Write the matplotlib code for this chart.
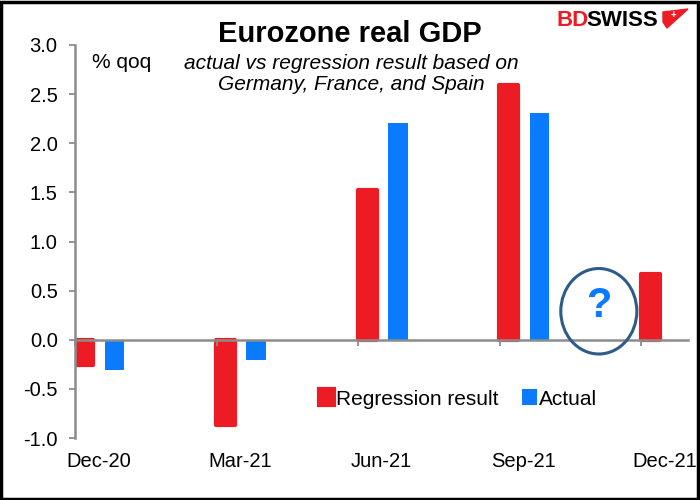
import matplotlib
matplotlib.use("Agg")
import matplotlib.pyplot as plt
from matplotlib.patches import Ellipse, Polygon, Rectangle

plt.rcParams['font.family'] = ['Liberation Sans', 'DejaVu Sans']
plt.rcParams['axes.unicode_minus'] = False

# data
quarters = ["Dec-20", "Mar-21", "Jun-21", "Sep-21", "Dec-21"]
regression = [-0.26, -0.87, 1.52, 2.59, 0.67]
actual = [-0.31, -0.21, 2.21, 2.31, None]

RED = "#ED1C24"
BLUE = "#0A7BFF"
GRAY = "#8C8C8C"

fig = plt.figure(figsize=(7, 5), dpi=100)
ax = fig.add_axes([75/700, 1 - 438/500, (688 - 75)/700, (438 - 45)/500])

x = list(range(len(quarters)))
ax.bar([i + 0.063 for i in x], regression, width=0.135, color=RED,
       edgecolor=RED, linewidth=3, joinstyle="round", label="Regression result",
       zorder=1)
xa = [i + 0.28 for i, v in zip(x, actual) if v is not None]
va = [v for v in actual if v is not None]
ax.bar(xa, va, width=0.138, color=BLUE, label="Actual", zorder=1)

ax.set_xlim(0, 4.33)
ax.set_ylim(-1.0, 3.0)
ax.set_yticks([-1.0, -0.5, 0.0, 0.5, 1.0, 1.5, 2.0, 2.5, 3.0])
ax.set_yticklabels([f"{v:.1f}" for v in ax.get_yticks()])
ax.tick_params(axis="y", length=4.5, width=1.3, color=GRAY, pad=8,
               labelsize=14.5)

for s in ["top", "right"]:
    ax.spines[s].set_visible(False)
ax.spines["left"].set_color(GRAY)
ax.spines["left"].set_linewidth(1.8)
ax.spines["bottom"].set_position(("data", 0))
ax.spines["bottom"].set_color(GRAY)
ax.spines["bottom"].set_linewidth(1.8)
ax.set_xticks(x)
ax.tick_params(axis="x", length=4, width=1.3, color=GRAY, labelbottom=False)

sec = ax.secondary_xaxis(0)
sec.set_xticks([i + 0.165 for i in x])
sec.set_xticklabels(quarters)
sec.tick_params(length=0, pad=10, labelsize=14.5)
sec.spines["bottom"].set_visible(False)

# question mark circle
ax.add_patch(Ellipse((3.70, 0.29), 0.537, 0.87, fill=False,
                     edgecolor="#2F5B8A", linewidth=2.2, zorder=3))
ax.text(3.70, 0.34, "?", color=BLUE, fontsize=30, fontweight="bold",
        ha="center", va="center")

leg = ax.legend(loc="center", bbox_to_anchor=(458/700, 1 - 399/500),
                bbox_transform=fig.transFigure, ncol=2, frameon=False,
                fontsize=15, handlelength=0.75, handleheight=0.8,
                handletextpad=0.1, columnspacing=1.1)

fig.text(350/700, 1 - 34/500, "Eurozone real GDP", fontsize=21,
         fontweight="bold", ha="center", va="center")
fig.text(351/700, 1 - 74/500,
         "actual vs regression result based on\nGermany, France, and Spain",
         fontsize=15, style="italic", ha="center", va="center",
         linespacing=1.15)
fig.text(92/700, 1 - 62/500, "% qoq", fontsize=15, ha="left", va="center")

# logo
fig.text(556/700, 1 - 21/500, "BD", color=RED, fontsize=16,
         fontweight="bold", ha="left", va="center")
fig.text(586/700, 1 - 21/500, "SWISS", color="black", fontsize=16,
         fontweight="bold", ha="left", va="center")
flag = [(663, 12), (688, 9), (667, 28), (663, 22)]
fig.patches.append(Polygon([(px/700, 1 - py/500) for px, py in flag],
                           closed=True, color=RED,
                           transform=fig.transFigure, figure=fig))
fig.text(673/700, 1 - 15/500, "+", color="white", fontsize=7,
         fontweight="bold", ha="center", va="center")

fig.patches.append(Rectangle((0.002, 0.003), 0.995, 0.994, fill=False,
                             edgecolor="black", linewidth=2.5,
                             transform=fig.transFigure, figure=fig))

fig.savefig("out.png", dpi=100)
